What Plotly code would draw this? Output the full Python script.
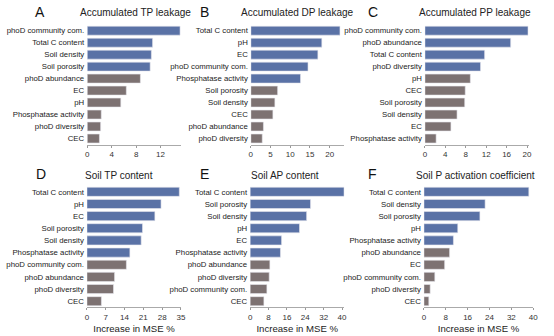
import plotly.graph_objects as go

W, H = 554, 336

# ---- data ----
cats_A = ["phoD community com.", "Total C content", "Soil density", "Soil porosity", "phoD abundance",
          "EC", "pH", "Phosphatase activity", "phoD diversity", "CEC"]
vals_A = [15.2, 10.7, 10.5, 10.3, 8.7, 6.4, 5.5, 2.3, 2.2, 2.0]
blue_A = 4

cats_B = ["Total C content", "pH", "EC", "phoD community com.", "Phosphatase activity",
          "Soil porosity", "Soil density", "CEC", "phoD abundance", "phoD diversity"]
vals_B = [22.6, 18.0, 17.0, 14.5, 12.6, 6.8, 6.1, 5.6, 3.2, 2.9]
blue_B = 5

cats_C = ["phoD community com.", "phoD abundance", "Total C content", "phoD diversity", "pH",
          "CEC", "Soil porosity", "Soil density", "EC", "Phosphatase activity"]
vals_C = [20.2, 16.8, 11.7, 10.9, 8.9, 7.9, 7.8, 6.3, 5.1, 2.2]
blue_C = 4

cats_D = ["Total C content", "pH", "EC", "Soil porosity", "Soil density", "Phosphatase activity",
          "phoD community com.", "phoD abundance", "phoD diversity", "CEC"]
vals_D = [34.4, 27.6, 25.3, 20.7, 20.2, 16.0, 14.7, 10.3, 9.9, 5.4]
blue_D = 6

cats_E = ["Total C content", "Soil porosity", "Soil density", "pH", "EC", "Phosphatase activity",
          "phoD abundance", "phoD diversity", "phoD community com.", "CEC"]
vals_E = [40.9, 26.3, 24.6, 21.5, 13.7, 13.2, 8.6, 8.3, 7.3, 6.0]
blue_E = 6

cats_F = ["Total C content", "Soil density", "Soil porosity", "pH", "Phosphatase activity",
          "phoD abundance", "EC", "phoD community com.", "phoD diversity", "CEC"]
vals_F = [38.4, 22.4, 20.5, 12.4, 10.8, 9.4, 7.6, 4.0, 2.3, 1.8]
blue_F = 5

titles = ["Accumulated TP leakage", "Accumulated DP leakage", "Accumulated PP leakage",
          "Soil TP content", "Soil AP content", "Soil P activation coefficient"]
letters = ["A", "B", "C", "D", "E", "F"]
ticks = [[0, 4, 8, 12], [0, 5, 10, 15, 20], [0, 4, 8, 12, 16, 20],
         [0, 7, 14, 21, 28, 35], [0, 8, 16, 24, 32, 40], [0, 8, 16, 24, 32, 40]]
xmax = [15.3, 23.7, 20.3, 35.1, 41.0, 40.0]
xlabel = "Increase in MSE %"

panels = [(cats_A, vals_A, blue_A), (cats_B, vals_B, blue_B), (cats_C, vals_C, blue_C),
          (cats_D, vals_D, blue_D), (cats_E, vals_E, blue_E), (cats_F, vals_F, blue_F)]

# ---- layout geometry (pixels) ----
xdom_px = [(86.3, 181.0), (252.0, 346.7), (428.3, 533.3),
           (86.0, 181.5), (251.3, 346.7), (427.3, 538.0)]
ydom_px = [(24.7, 144.5), (24.7, 144.5), (24.7, 144.5),
           (185.7, 307.3), (185.7, 307.3), (185.7, 307.3)]
title_px = [(135.5, 13), (299.7, 13), (479, 13), (118.5, 175), (287, 175), (480, 175)]
letter_px = [(38, 12.5), (205.5, 12.5), (376, 12.5), (39, 173.5), (205.5, 173.5), (375.5, 173.5)]

BLUE = "#5a72a6"
GREY = "#7d7272"
FONT = "Liberation Sans, Arial, sans-serif"

fig = go.Figure()
layout = dict(width=W, height=H, margin=dict(l=0, r=0, t=0, b=0),
              paper_bgcolor="white", plot_bgcolor="white", showlegend=False,
              bargap=0.25, annotations=[], font=dict(family=FONT, color="#222"))

for i, (cats, vals, nb) in enumerate(panels):
    n = i + 1
    xa = "x" if n == 1 else f"x{n}"
    ya = "y" if n == 1 else f"y{n}"
    colors = [BLUE if k < nb else GREY for k in range(len(vals))]
    fig.add_trace(go.Bar(x=vals, y=cats, orientation="h", xaxis=xa, yaxis=ya,
                         marker=dict(color=colors, line=dict(color="#e8e8ef", width=0.6)),
                         width=0.75))
    x0, x1 = xdom_px[i]
    y0, y1 = ydom_px[i]
    xkey = "xaxis" if n == 1 else f"xaxis{n}"
    ykey = "yaxis" if n == 1 else f"yaxis{n}"
    xd = dict(domain=[x0 / W, x1 / W], anchor=ya, range=[0, xmax[i]],
              tickvals=ticks[i], ticks="outside", ticklen=2, tickcolor="#999",
              showline=True, linecolor="#aaa", linewidth=1, showgrid=False, zeroline=False,
              tickfont=dict(size=8, color="#333", family=FONT), fixedrange=True)
    if i >= 3:
        xd["title"] = dict(text=xlabel, font=dict(size=9.6, color="#222", family=FONT), standoff=4)
    layout[xkey] = xd
    layout[ykey] = dict(domain=[1 - y1 / H, 1 - y0 / H], anchor=xa, type="category",
                        categoryorder="array", categoryarray=cats, autorange="reversed",
                        showline=False, showgrid=False, ticks="", zeroline=False,
                        tickfont=dict(size=7.8, color="#222", family=FONT),
                        ticklabelstandoff=2, fixedrange=True)
    tx, ty = title_px[i]
    layout["annotations"].append(dict(text=titles[i], x=tx / W, y=1 - ty / H, xref="paper", yref="paper",
                                      showarrow=False, xanchor="center", yanchor="middle",
                                      font=dict(size=10, color="#222", family=FONT)))
    lx, ly = letter_px[i]
    layout["annotations"].append(dict(text=letters[i], x=lx / W, y=1 - ly / H, xref="paper", yref="paper",
                                      showarrow=False, xanchor="center", yanchor="middle",
                                      font=dict(size=14, color="#111", family=FONT)))

fig.update_layout(**layout)
fig.write_html("out.html")
